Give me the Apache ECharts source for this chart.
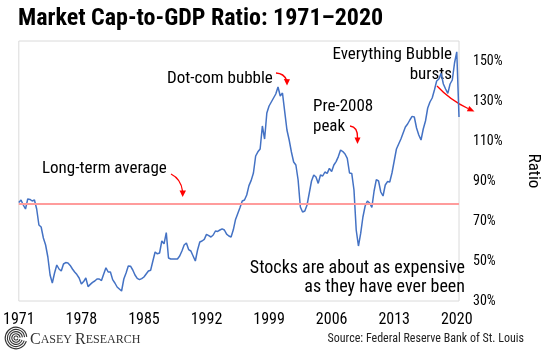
<!DOCTYPE html>
<html>
<head>
<meta charset="utf-8">
<script src="https://cdn.jsdelivr.net/npm/echarts@6/dist/echarts.min.js"></script>
<style>html,body{margin:0;padding:0;background:#fff;}#c{width:550px;height:359px;}</style>
</head>
<body>
<div id="c"></div>
<script>
// ---- data ----
var startYear = 1971;
var endYear = 2020;
var quarters = []; // category labels, 1971 Q1 .. 2020 Q2
for (var y = startYear; y <= endYear; y++) {
  for (var q = 1; q <= 4; q++) {
    if (y === endYear && q > 2) break;
    quarters.push(y + ' Q' + q);
  }
}
var ratio = [
  79.2, 80.5, 78, 76, 81, 80.8, 80, 80.5, 76, 68,
  67, 61.5, 58, 52, 43, 39, 44, 48, 46, 45,
  48.5, 49.2, 49, 47.8, 46, 44.5, 43.2, 41.5, 38.5, 39.7,
  41.5, 37.2, 38.3, 39.3, 40, 41, 41, 40.2, 43.5, 46.6,
  44.5, 44.5, 40.7, 39, 37, 36, 35, 41, 44, 47.5,
  47.4, 45.5, 43, 41.3, 40.7, 41.2, 42, 43.5, 45, 45.4,
  50, 54.5, 53.6, 54, 60, 58.6, 64.2, 51.5, 51, 51,
  51, 51, 52.5, 55, 58, 59, 55.7, 55, 52.5, 50,
  55.5, 59.5, 60, 60.8, 63.3, 62.7, 62, 63, 65, 64.8,
  65.5, 66.1, 65.5, 63.4, 62.5, 62, 65.6, 70.8, 73.8, 76.8,
  80, 80.5, 83, 87.7, 90.3, 94, 102.5, 104.6, 106, 117.5,
  111, 124, 127.5, 129.5, 131.5, 133.5, 137, 132.5, 134, 124.7,
  115.5, 110.5, 104.5, 99.5, 98, 90.5, 77, 74.5, 75, 78,
  84, 90, 93, 92, 88.8, 93, 92.5, 94.5, 93.8, 96.3,
  94.7, 98, 99.7, 102.2, 105.5, 104.7, 103.5, 101.3, 94, 93.8,
  85.5, 65.5, 57.5, 63.8, 72, 77.5, 80, 79, 76.8, 85,
  90.7, 90, 84.5, 82.5, 88, 89.7, 89.5, 94, 100, 106,
  108.5, 111, 114, 117, 118.5, 120.5, 122.3, 122, 116.5, 113,
  110.5, 116, 120, 126.5, 129.5, 131.5, 135.5, 140, 141, 143.8,
  138.5, 136, 133.8, 138.5, 140.5, 149, 154.6, 122
];
var longTermAverage = 78.5;
var yTickValues = [30, 50, 70, 90, 110, 130, 150];

var NARROW = "'Liberation Sans Narrow','Arial Narrow','Roboto Condensed',Arial,sans-serif";
var RED = '#FF0000';

function arrowHead(tip, base1, base2) {
  return { type: 'polygon', silent: true, shape: { points: [tip, base1, base2] }, style: { fill: RED } };
}
function curve(x1, y1, cx, cy, x2, y2) {
  return { type: 'bezierCurve', silent: true,
    shape: { x1: x1, y1: y1, cpx1: cx, cpy1: cy, x2: x2, y2: y2 },
    style: { stroke: RED, lineWidth: 1.3, fill: null } };
}
function label(text, x, y, size, align) {
  return { type: 'text', silent: true, x: x, y: y,
    style: { text: text, fill: '#000', font: size + 'px ' + NARROW, align: align || 'left', verticalAlign: 'middle' } };
}

var logoArcs = [];
for (var r = 2; r <= 11; r += 2.2) {
  logoArcs.push({ type: 'arc', silent: true,
    shape: { cx: 16, cy: 338, r: r, startAngle: 0.3, endAngle: Math.PI * 2 - 0.1 },
    style: { stroke: '#333', lineWidth: 1.1, fill: null } });
}

var chart = echarts.init(document.getElementById('c'), null, { renderer: 'canvas' });
chart.setOption({
  animation: false,
  backgroundColor: '#fff',
  title: {
    text: 'Market Cap-to-GDP Ratio: 1971\u20132020',
    left: 13, top: 2,
    textStyle: { fontFamily: NARROW, fontWeight: 'bold', fontSize: 24, color: '#000' }
  },
  grid: { left: 17.5, right: 73, top: 41, bottom: 58, show: true, borderColor: '#DADADA', borderWidth: 1, backgroundColor: '#fff' },
  xAxis: {
    type: 'category',
    data: quarters,
    boundaryGap: false,
    axisLine: { show: false },
    axisTick: { show: false },
    splitLine: { show: false },
    axisLabel: {
      interval: 27,
      margin: 11,
      color: '#000',
      fontFamily: NARROW,
      fontSize: 16,
      formatter: function (v) { return v.slice(0, 4); }
    }
  },
  yAxis: {
    type: 'value',
    position: 'right',
    min: 30, max: 160,
    name: 'Ratio',
    nameLocation: 'middle',
    nameRotate: -90,
    nameGap: 66,
    nameTextStyle: { fontFamily: NARROW, fontSize: 17, color: '#000' },
    axisLine: { show: false },
    axisTick: { show: false },
    splitLine: { show: false },
    axisLabel: {
      customValues: yTickValues,
      margin: 14,
      color: '#000',
      fontFamily: NARROW,
      fontSize: 14,
      formatter: function (v) { return v + '%'; }
    }
  },
  series: [{
    type: 'line',
    data: ratio,
    symbol: 'none',
    lineStyle: { color: '#4472C4', width: 1.5 },
    markLine: {
      silent: true,
      symbol: 'none',
      label: { show: false },
      lineStyle: { color: '#FF9C9C', width: 2, type: 'solid' },
      data: [{ yAxis: longTermAverage }]
    },
    z: 3
  }],
  graphic: [
    label('Dot-com bubble', 167, 79, 17),
    label('Long-term average', 42, 169, 17),
    label('Pre-2008', 313, 107, 17),
    label('peak', 313, 127, 17),
    label('Everything Bubble', 452, 55, 17, 'right'),
    label('bursts', 452, 75, 17, 'right'),
    label('Stocks are about as expensive', 465, 268, 18, 'right'),
    label('as they have ever been', 465, 287, 18, 'right'),
    { type: 'text', silent: true, x: 524, y: 339,
      style: { text: 'Source: Federal Reserve Bank of St. Louis', fill: '#222', font: '12px ' + NARROW, align: 'right', verticalAlign: 'middle' } },
    { type: 'text', silent: true, x: 30, y: 340,
      style: { text: '{b|C}{s|ASEY }{b|R}{s|ESEARCH}', verticalAlign: 'middle',
        rich: { b: { fontFamily: "'Liberation Serif',serif", fontSize: 16, fill: '#333', color: '#333' },
                s: { fontFamily: "'Liberation Serif',serif", fontSize: 12, fill: '#333', color: '#333' } } } },
    curve(276, 73, 284, 73.5, 286.5, 80),
    arrowHead([287, 85.5], [283.8, 79], [290, 79.3]),
    curve(171, 174, 181, 179, 182.5, 191),
    arrowHead([182.7, 197], [179.5, 190.5], [186, 190.5]),
    curve(350, 126, 358, 127, 357.5, 138),
    arrowHead([357.5, 144], [354.5, 137.5], [360.5, 137.5]),
    curve(437, 86, 450, 100, 468, 108.5),
    arrowHead([474.5, 111.5], [466.9, 111.3], [469.3, 105.9])
  ].concat(logoArcs)
});
</script>
</body>
</html>
